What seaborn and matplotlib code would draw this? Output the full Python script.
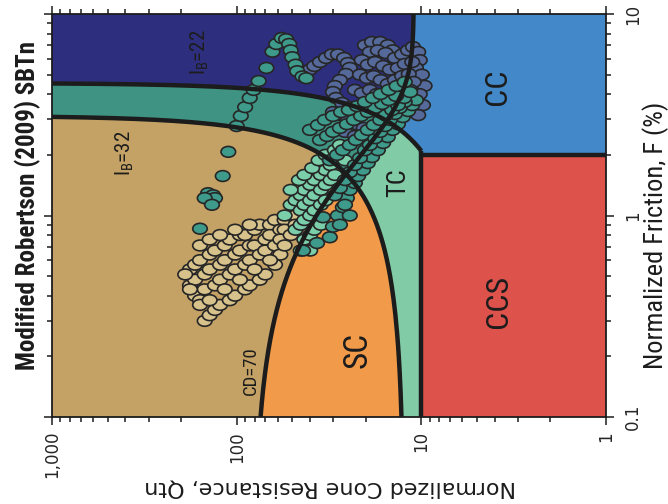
import numpy as np
import pandas as pd
import matplotlib
matplotlib.use("Agg")
import matplotlib.pyplot as plt
from matplotlib.colors import ListedColormap, BoundaryNorm
from matplotlib.path import Path
from matplotlib.ticker import FixedLocator, LogLocator, NullFormatter, FixedFormatter
import seaborn as sns

# ---------------------------------------------------------------- data
# CPT sounding points, grouped by colour class (Qtn, F %)
tan_qtn = [179, 168, 158, 140, 131, 116, 109, 96, 90, 80, 75, 66, 62, 55, 51, 48,
           179, 168, 149, 140, 123, 116, 102, 96, 85, 80, 70, 66, 58, 55, 48,
           168, 158, 149, 131, 123, 109, 102, 90, 85, 75, 70, 62, 58, 51,
           149, 140, 131, 123, 109, 102, 90, 85, 75, 70, 62, 58,
           190, 179, 158, 140, 116, 96, 80, 66, 55,
           158, 140, 123, 102, 85]
tan_fr = [0.54, 0.57, 0.60, 0.64, 0.67, 0.71, 0.76, 0.80, 0.80, 0.85, 0.90, 0.90, 0.95, 0.95, 1.00, 1.00,
          0.45, 0.48, 0.51, 0.54, 0.57, 0.60, 0.64, 0.67, 0.71, 0.71, 0.76, 0.80, 0.85, 0.85, 0.90,
          0.40, 0.38, 0.43, 0.45, 0.48, 0.51, 0.54, 0.57, 0.60, 0.64, 0.67, 0.71, 0.76, 0.80,
          0.30, 0.32, 0.34, 0.36, 0.38, 0.40, 0.43, 0.45, 0.48, 0.51, 0.57, 0.64,
          0.51, 0.43, 0.36, 0.38, 0.43, 0.48, 0.54, 0.60, 0.71,
          0.71, 0.76, 0.80, 0.85, 0.90]

slate_qtn = [40.1, 38.0, 35.4, 32.8, 30.5, 28.3, 26.2, 25.0, 24.4, 25.6, 27.6, 29.4, 30.1, 29.0, 26.9, 24.4, 22.0, 20.2, 19.0,
             20.2, 18.5, 16.7, 15.2, 14.3, 19.0, 17.2, 15.6, 13.9, 12.7, 11.8, 11.1, 10.4, 10.2, 10.7, 9.93, 9.6, 10.2, 9.8, 10.4,
             21.0, 19.5, 17.8, 16.1, 14.8, 13.4, 12.3, 11.2,
             21.5, 19.7, 18.1, 16.6, 15.2, 13.9, 12.7, 11.7, 11.0, 11.5,
             22.9, 21.0, 19.0, 17.4, 15.9, 14.6, 13.4, 12.3,
             27.6, 25.0, 22.6, 20.5, 18.5, 30.1, 25.9, 22.9]
slate_fr = [5.3, 5.52, 5.78, 6.05, 6.3, 6.3, 6.05, 5.71, 5.40, 5.04, 4.7, 4.39, 4.10, 3.83, 3.62, 3.45, 3.34, 3.42, 3.66,
            7.0, 7.26, 7.26, 7.0, 6.6, 6.48, 6.6, 6.40, 6.05, 6.3, 6.6, 6.86, 6.48, 5.9, 5.40, 5.0, 4.4, 4.0, 3.53, 3.15,
            5.9, 5.6, 5.78, 5.52, 5.3, 5.40, 5.65, 5.78,
            5.0, 4.81, 4.92, 4.7, 4.49, 4.7, 4.92, 5.04, 4.60, 4.2,
            4.2, 4.05, 4.2, 4.01, 3.83, 3.58, 3.74, 4.0,
            3.15, 2.98, 2.84, 2.72, 2.63, 3.26, 2.60, 2.48]

mint_qtn = [55, 51, 48, 45, 43, 40, 38, 35, 33, 31,
            45, 43, 40, 38, 35, 33, 31, 29.4,
            48, 45, 43, 40, 38, 35, 33,
            43, 40, 38, 35,
            45, 40,
            51, 46, 43, 39, 36, 33, 29.4, 25.9, 27.6]
mint_fr = [1.00, 1.13, 1.19, 1.26, 1.34, 1.42, 1.50, 1.59, 1.68, 1.78,
           1.06, 1.13, 1.19, 1.26, 1.34, 1.42, 1.50, 1.59,
           0.85, 0.90, 0.95, 1.00, 1.06, 1.13, 1.19,
           0.76, 0.80, 0.85, 0.90,
           0.67, 0.67,
           1.34, 1.50, 1.59, 1.72, 1.88, 2.00, 2.11, 1.88, 2.24]

teal_qtn = [111, 119, 143, 134, 140, 131, 149, 136, 158,
            100, 95, 90, 85, 81, 76, 69, 64, 61, 57, 54, 52, 51, 50, 48, 47, 44, 42,
            43.7, 36.7, 31.3, 30.1, 34.1, 28.3, 26.6, 25.3, 24.4, 22.9, 22.0, 20.7, 19.5, 18.5, 17.2, 16.1, 15.2, 14.3, 13.4, 12.6, 11.8, 11.2, 10.7,
            29.4, 27.6, 25.9, 24.4, 22.9, 21.5, 20.2, 19.0, 17.8, 16.7, 15.7, 14.8, 13.9, 13.1, 12.3,
            31.3, 28.6, 26.6, 24.4, 22.6, 21.0, 19.5, 18.1, 16.7, 15.6, 14.4, 13.4, 12.4, 11.5,
            35.4, 32.4, 30.1, 27.6, 25.3, 23.2, 21.2, 19.5, 17.8, 16.3, 15.0, 13.7,
            40.1, 36.3, 33.3, 30.1, 27.2, 24.7, 22.3, 20.2, 18.3, 16.6, 15.0, 13.6, 12.3,
            25.9, 24.4, 27.6]
teal_fr = [2.07, 1.57, 1.29, 1.26, 1.19, 1.22, 1.22, 1.13, 0.86,
           2.78, 3.12, 3.45, 3.83, 4.2, 4.65, 5.4, 6.5, 7.1, 7.6, 7.5, 7.1, 6.6, 6.1, 5.6, 5.2, 4.9, 4.8,
           0.67, 0.73, 0.78, 0.88, 0.98, 1.00, 1.10, 1.22, 1.34, 1.45, 1.57, 1.68, 1.82, 1.95, 2.11, 2.29, 2.45, 2.66, 2.84, 3.08, 3.30, 3.53, 3.74,
           1.26, 1.37, 1.50, 1.64, 1.78, 1.93, 2.11, 2.24, 2.42, 2.60, 2.78, 2.98, 3.19, 3.42, 3.66,
           1.88, 2.00, 2.11, 2.24, 2.37, 2.51, 2.66, 2.81, 2.98, 3.15, 3.34, 3.53, 3.83, 4.10,
           2.37, 2.48, 2.60, 2.72, 2.84, 2.98, 3.12, 3.26, 3.42, 3.58, 3.74, 3.92,
           2.66, 2.81, 2.98, 3.12, 3.26, 3.34, 3.49, 3.66, 3.83, 4.01, 4.20, 4.39, 4.60,
           1.13, 1.00, 0.90]

# chart axes
qtn_ticks = [1000, 100, 10, 1]
qtn_tick_labels = ["1,000", "100", "10", "1"]
fr_ticks = [0.1, 1, 10]
fr_tick_labels = ["0.1", "1", "10"]

# SBTn boundary parameters
IB_CLAY = 22
IB_SAND = 32
CD_LIMIT = 70
Q_CCS = 10
F_CCS = 2

# zone colours: SD, TD, CD, SC, TC, CC, CCS
zone_colors = ["#C4A266", "#3F9382", "#2E2E7E", "#F09A4A", "#81CBA6", "#4388C8", "#DD534C"]
point_colors = {"tan": "#D8C28C", "slate": "#56699B", "mint": "#7ACFAA", "teal": "#3E9A8A"}

# ---------------------------------------------------------------- style
sns.set_style("ticks")
plt.rcParams["font.family"] = ["DejaVu Sans"]
NARROW = ["Liberation Sans Narrow", "Roboto Condensed", "DejaVu Sans Condensed", "Roboto", "DejaVu Sans"]
INK = "#1c1c1c"

fig = plt.figure(figsize=(6.68, 5.04), dpi=100)
ax = fig.add_axes([52 / 668, 87 / 504, 554 / 668, 403 / 504])
ax.set_xscale("log")
ax.set_yscale("log")

# ---------------------------------------------------------------- zones
qe = np.logspace(0, 3, 901)
fe = np.logspace(-1, 1, 601)
qc = np.sqrt(qe[:-1] * qe[1:])
fc = np.sqrt(fe[:-1] * fe[1:])
Q, F = np.meshgrid(qc, fc)
ib = 100 * (Q + 10) / (Q * F + 70)
cd = (Q - 11) * (1 + 0.06 * F) ** 17
dilative = np.where(ib > IB_SAND, 0, np.where(ib > IB_CLAY, 1, 2))
contractive = np.where(ib > IB_SAND, 3, np.where(ib > IB_CLAY, 4, 5))
zone = np.where(Q < Q_CCS, np.where(F >= F_CCS, 5, 6),
                np.where(cd >= CD_LIMIT, dilative, contractive))
ax.pcolormesh(qe, fe, zone, cmap=ListedColormap(zone_colors),
              norm=BoundaryNorm(np.arange(-0.5, 7.0, 1.0), 7),
              shading="flat", rasterized=True, zorder=0)

# ---------------------------------------------------------------- points
df = pd.DataFrame({
    "Qtn": np.concatenate([tan_qtn, slate_qtn, mint_qtn, teal_qtn]),
    "F": np.concatenate([tan_fr, slate_fr, mint_fr, teal_fr]),
    "group": (["tan"] * len(tan_qtn) + ["slate"] * len(slate_qtn)
              + ["mint"] * len(mint_qtn) + ["teal"] * len(teal_qtn)),
})
circle = Path.unit_circle()
ellipse = Path(circle.vertices * np.array([1.35, 1.0]), circle.codes)
sns.scatterplot(data=df, x="Qtn", y="F", hue="group", palette=point_colors,
                marker=ellipse, s=110, edgecolor="#262626", linewidth=1.2,
                legend=False, ax=ax, zorder=2)

# ---------------------------------------------------------------- boundaries
line_kw = dict(color=INK, lw=3.2, solid_capstyle="butt", zorder=3)


def ib_curve(ib_value, q):
    return (100 * (q + 10) / ib_value - 70) / q


q22 = np.logspace(3, np.log10(Q_CCS), 400)
ax.plot(q22, ib_curve(IB_CLAY, q22), **line_kw)
q_end32 = (70 - 1000 / IB_SAND) / (100 / IB_SAND - 0.1)
q32 = np.logspace(3, np.log10(q_end32), 400)
ax.plot(q32, ib_curve(IB_SAND, q32), **line_kw)
f_cd = np.logspace(-1, 1, 400)
ax.plot(11 + CD_LIMIT / (1 + 0.06 * f_cd) ** 17, f_cd, **line_kw)
ax.plot([Q_CCS, Q_CCS], [0.1, ib_curve(IB_CLAY, Q_CCS)], **line_kw)
ax.plot([Q_CCS, 1], [F_CCS, F_CCS], **line_kw)

# ---------------------------------------------------------------- zone labels
def zone_label(q, f, text, size):
    ax.text(q, f, text, rotation=90, ha="center", va="center", fontsize=size,
            family=NARROW, color=INK, zorder=4)


zone_label(158, 6.48, r"$\mathregular{I_B}$=22", 15)
zone_label(403, 2.04, r"$\mathregular{I_B}$=32", 15)
zone_label(83.7, 0.169, "CD=70", 13.5)
zone_label(22.0, 0.215, "SC", 24)
zone_label(13.4, 1.45, "TC", 19)
zone_label(3.85, 4.34, "CC", 23)
zone_label(3.8, 0.376, "CCS", 23)

# ---------------------------------------------------------------- axes
ax.set_xlim(1000, 1)
ax.set_ylim(0.1, 10)
ax.xaxis.set_major_locator(FixedLocator(qtn_ticks))
ax.xaxis.set_major_formatter(FixedFormatter(qtn_tick_labels))
ax.xaxis.set_minor_locator(LogLocator(base=10, subs=np.arange(2, 10)))
ax.xaxis.set_minor_formatter(NullFormatter())
ax.yaxis.set_major_locator(FixedLocator(fr_ticks))
ax.yaxis.set_major_formatter(FixedFormatter(fr_tick_labels))
ax.yaxis.set_minor_locator(LogLocator(base=10, subs=np.arange(2, 10)))
ax.yaxis.set_minor_formatter(NullFormatter())

ax.tick_params(which="both", direction="out", top=True, bottom=True, left=True, right=True,
               labeltop=False, labelleft=False, labelbottom=True, labelright=True,
               color=INK, width=1.1)
ax.tick_params(which="major", length=6, labelsize=12, pad=4)
ax.tick_params(axis="y", which="major", pad=7)
ax.tick_params(which="minor", length=3.5)
for lab in ax.get_xticklabels():
    lab.set_rotation(90)
for lab in ax.get_yticklabels():
    lab.set_rotation(90)
    lab.set_verticalalignment("center")

for sp in ax.spines.values():
    sp.set_linewidth(1.3)
    sp.set_color(INK)
    sp.set_zorder(5)

ax.set_xlabel("Normalized Cone Resistance, Qtn", rotation=180, fontsize=16, color=INK,
              ha="center", va="center")
ax.xaxis.set_label_coords(0.502, -0.176)
ax.yaxis.set_label_position("right")
ax.set_ylabel("Normalized Friction, F (%)", rotation=90, fontsize=19, family=NARROW, color=INK,
              ha="center", va="center")
ax.yaxis.set_label_coords(1.09, 0.45)

fig.text(28 / 668, 1 - 205 / 504, "Modified Robertson (2009) SBTn", rotation=90,
         ha="center", va="center", fontsize=18, fontweight="bold", family=NARROW, color=INK)

fig.savefig("out.png", dpi=100)
